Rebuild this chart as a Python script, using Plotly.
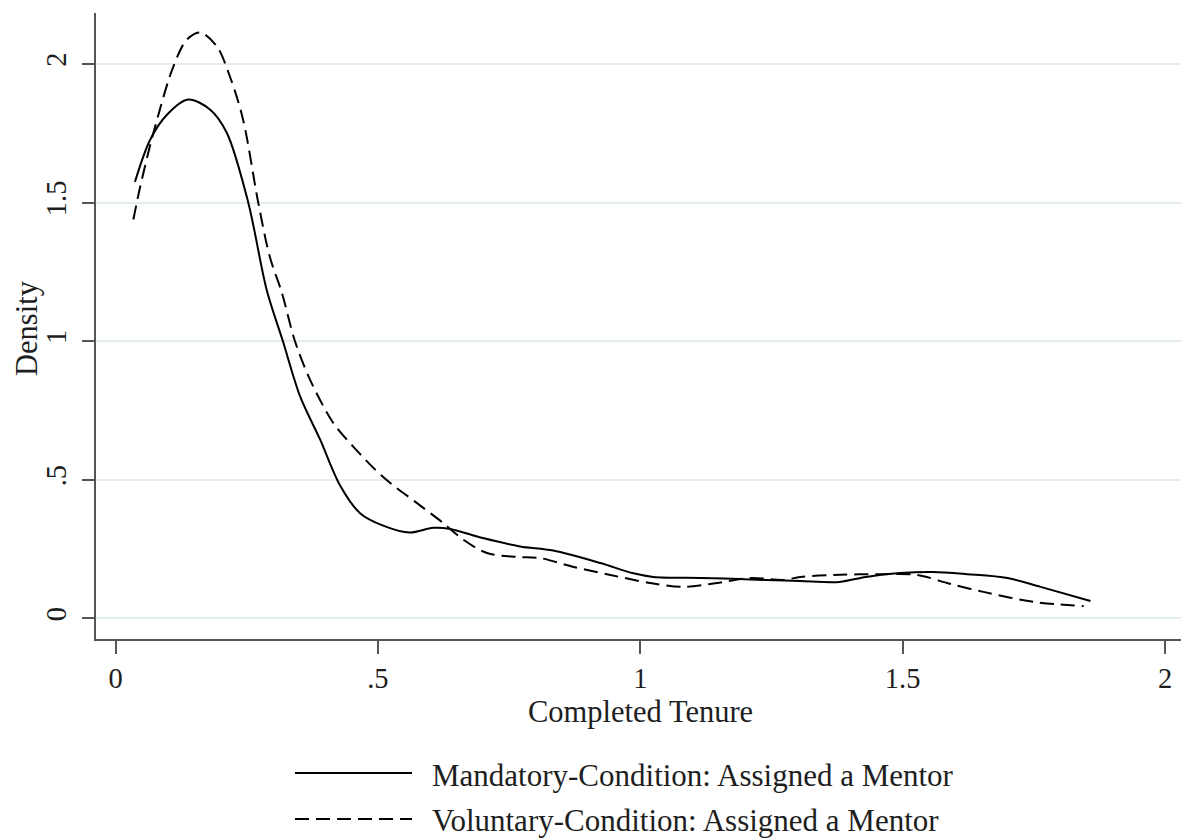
import plotly.graph_objects as go

# ---- data ----
mand_x = [0.037, 0.066, 0.098, 0.138, 0.18, 0.212, 0.253, 0.288, 0.319, 0.352, 0.39, 0.428,
          0.466, 0.51, 0.561, 0.605, 0.638, 0.70, 0.771, 0.834, 0.924, 0.987, 1.025, 1.115,
          1.177, 1.24, 1.305, 1.38, 1.43, 1.495, 1.558, 1.623, 1.70, 1.763, 1.858]
mand_y = [1.575, 1.727, 1.817, 1.872, 1.836, 1.752, 1.5, 1.186, 1.0, 0.80, 0.645, 0.48,
          0.38, 0.335, 0.31, 0.327, 0.323, 0.29, 0.26, 0.245, 0.20, 0.163, 0.15, 0.146,
          0.143, 0.139, 0.135, 0.132, 0.15, 0.164, 0.168, 0.16, 0.146, 0.114, 0.063]

vol_x = [0.034, 0.047, 0.072, 0.11, 0.136, 0.161, 0.193, 0.218, 0.243, 0.272, 0.294, 0.317,
         0.342, 0.371, 0.415, 0.453, 0.51, 0.574, 0.624, 0.663, 0.708, 0.765, 0.809, 0.873,
         0.943, 1.019, 1.082, 1.146, 1.21, 1.273, 1.305, 1.368, 1.464, 1.528, 1.59, 1.654,
         1.749, 1.845]
vol_y = [1.439, 1.557, 1.75, 1.99, 2.088, 2.114, 2.064, 1.955, 1.80, 1.5, 1.305, 1.175,
         1.0, 0.86, 0.705, 0.62, 0.51, 0.417, 0.345, 0.284, 0.236, 0.222, 0.218, 0.186,
         0.157, 0.128, 0.114, 0.128, 0.146, 0.139, 0.15, 0.157, 0.16, 0.157, 0.125, 0.096,
         0.06, 0.045]

series_names = ["Mandatory-Condition: Assigned a Mentor",
                "Voluntary-Condition: Assigned a Mentor"]
x_tickvals = [0, 0.5, 1, 1.5, 2]
x_ticktext = ["0", ".5", "1", "1.5", "2"]
y_tickvals = [0, 0.5, 1, 1.5, 2]
y_ticktext = ["0", ".5", "1", "1.5", "2"]

FONT = "Liberation Serif, Times New Roman, serif"
TXT = "#1e1e1e"
AX = "#555555"
GRID = "#e3eeee"
DASH = "14px,7px"

fig = go.Figure()
fig.add_trace(go.Scatter(x=mand_x, y=mand_y, mode="lines", name=series_names[0],
                         line=dict(color="black", width=2, shape="spline", smoothing=0.9),
                         showlegend=False))
fig.add_trace(go.Scatter(x=vol_x, y=vol_y, mode="lines", name=series_names[1],
                         line=dict(color="black", width=2, dash=DASH, shape="spline", smoothing=0.9),
                         showlegend=False))

# legend drawn manually below the plot (long Stata-style samples)
W, H = 1181, 838
L, R, T, B = 96, 0, 13, 199
pw, ph = W - L - R, H - T - B


def px_x(p):
    return (p - L) / pw


def px_y(p):
    return (H - B - p) / ph


legend_rows = [(773, 776, None), (819, 820, DASH)]
for (ly, ty, dash), name in zip(legend_rows, series_names):
    fig.add_shape(type="line", xref="paper", yref="paper",
                  x0=px_x(295), x1=px_x(412), y0=px_y(ly), y1=px_y(ly),
                  line=dict(color="black", width=2, dash=dash))
    fig.add_annotation(text=name, xref="paper", yref="paper", x=px_x(430), y=px_y(ty),
                       xanchor="left", yanchor="middle", showarrow=False,
                       font=dict(family=FONT, size=31, color=TXT))

# axis titles
fig.add_annotation(text="Completed Tenure", xref="x", yref="paper", x=1, y=px_y(712),
                   xanchor="center", yanchor="middle", showarrow=False,
                   font=dict(family=FONT, size=30.5, color=TXT))
fig.add_annotation(text="Density", xref="paper", yref="paper", x=px_x(27), y=px_y(328),
                   xanchor="center", yanchor="middle", textangle=-90, showarrow=False,
                   font=dict(family=FONT, size=30.5, color=TXT))

fig.update_layout(
    width=W, height=H,
    margin=dict(l=L, r=R, t=T, b=B, pad=0),
    paper_bgcolor="white", plot_bgcolor="white",
    showlegend=False,
    xaxis=dict(range=[-0.0372, 2.0305], tickvals=x_tickvals, ticktext=x_ticktext,
               ticks="outside", ticklen=13, tickwidth=1.5, tickcolor=AX,
               showline=True, linecolor=AX, linewidth=1.5, showgrid=False, zeroline=False,
               tickfont=dict(family=FONT, size=28.5, color=TXT), ticklabelstandoff=0),
    yaxis=dict(range=[-0.074, 2.184], tickvals=y_tickvals, ticktext=y_ticktext,
               ticks="outside", ticklen=12, tickwidth=1.5, tickcolor=AX, tickangle=-90,
               showline=True, linecolor=AX, linewidth=1.5, showgrid=True, gridcolor=GRID,
               gridwidth=1.5, zeroline=False,
               tickfont=dict(family=FONT, size=28.5, color=TXT), ticklabelstandoff=5),
)

fig.write_html("out.html")
